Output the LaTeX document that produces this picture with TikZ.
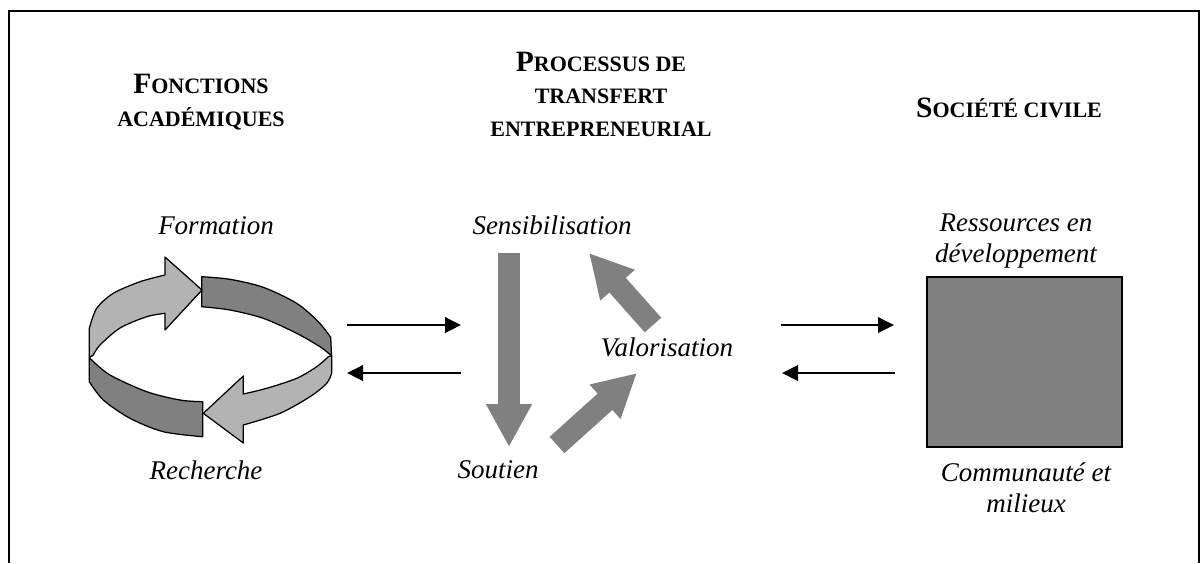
\documentclass[tikz,border=0pt]{standalone}
\usepackage{fontspec}
\setmainfont{Liberation Serif}
\usetikzlibrary{arrows.meta}

\definecolor{bandlight}{HTML}{B3B3B3}
\definecolor{banddark}{HTML}{808080}
\definecolor{blockgray}{HTML}{808080}

% bold small capitals built by hand: first letter large, the rest smaller
\newcommand\hdskip{13}
\newcommand\capsc[2]{{\fontsize{11.8}{\hdskip}\selectfont #1}{\fontsize{8.8}{\hdskip}\selectfont #2}}

\begin{document}
\begin{tikzpicture}[x=0.4pt,y=-0.4pt,
  header/.style={font=\fontsize{11.8}{13}\selectfont\bfseries, align=center, inner sep=0pt},
  lbl/.style={font=\fontsize{10.8}{12.4}\selectfont\itshape, align=center, inner sep=0pt},
  band/.style={draw=black, line width=0.5pt, line join=round},
  flow/.style={line width=0.8pt, -{Triangle[length=6.4pt,width=6.2pt]}},
  block/.style={draw=blockgray, line width=8.8pt, -{Triangle[length=17.2pt,width=17.2pt]}},
]
\useasboundingbox (0,0) rectangle (1201,563);

% frame, open at the bottom
\draw[line width=0.8pt] (9,563) -- (9,11) -- (1199,11) -- (1199,563);

% column headings
\node[header] (hfa) at (201,102) {\capsc{F}{ONCTIONS}\\\capsc{}{ACADÉMIQUES}};
\node[header] (hpt) at (601,94) {\capsc{P}{ROCESSUS DE}\\\capsc{}{TRANSFERT}\\\capsc{}{ENTREPRENEURIAL}};
\node[header] (hsc) at (1009,108) {\capsc{S}{OCIÉTÉ CIVILE}};

% --- circular ribbon: back-right and front-left strips first
\filldraw[band, fill=banddark]
  plot[smooth] coordinates {(201.7,276.7) (230,279.3) (263.3,287.3) (296.7,303.3) (318.3,321.7) (330.7,337.3)}
  -- (331.5,355)
  -- plot[smooth] coordinates {(329.3,354) (320,346.7) (296.7,333.3) (263.3,318.3) (230,310) (201.7,306.7)}
  -- cycle;
\filldraw[band, fill=banddark]
  (202.7,401.7) -- (202.7,436.7)
  -- plot[smooth] coordinates {(202.7,436.7) (163.3,431.7) (130,418.3) (103.3,400) (89.3,381.7)}
  -- (89.3,358)
  -- plot[smooth] coordinates {(91.7,360) (110,375) (146.7,391.7) (180,400) (202.7,401.7)}
  -- cycle;
% back-left arrow, head pointing right
\filldraw[band, fill=bandlight]
  (89.3,357.5) -- (89.3,328.3)
  -- plot[smooth] coordinates {(89.3,328.3) (96.7,308.3) (113.3,293.3) (140,281.7) (165,275)}
  -- (165,257) -- (202,290) -- (165,330) -- (165,313.3)
  -- plot[smooth] coordinates {(165,313.3) (146.7,316.7) (120,328) (100,345) (93.3,355)}
  -- cycle;
% front-right arrow, head pointing left
\filldraw[band, fill=bandlight]
  (331.7,355.5) -- (331.7,373)
  -- plot[smooth] coordinates {(331.7,373) (326.7,383.3) (310,396.7) (280,413.3) (243.3,425)}
  -- (243.3,443) -- (203.3,413.3) -- (243.3,376) -- (243.3,394)
  -- plot[smooth] coordinates {(243.3,394) (266.7,388.3) (296.7,378.3) (316.7,366.7) (328.3,356.7)}
  -- cycle;

% labels
\node[lbl] (form) at (216,226) {Formation};
\node[lbl] (rech) at (206,470) {Recherche};
\node[lbl] (sens) at (552,225) {Sensibilisation};
\node[lbl] (sout) at (498,470) {Soutien};
\node[lbl] (valo) at (667,347) {Valorisation};
\node[lbl] (ress) at (1016,241) {Ressources en\\développement};
\node[lbl] (comm) at (1026,488) {Communauté et\\milieux};

% civil society block
\node[draw, fill=blockgray, line width=0.8pt, minimum width=78pt, minimum height=68pt, inner sep=0pt] (soc) at (1024.5,362) {};

% exchange arrows
\coordinate (fa-out) at (347,325);
\coordinate (pt-in)  at (461,325);
\coordinate (pt-out) at (461,373);
\coordinate (fa-in)  at (347,373);
\coordinate (pt-out2) at (781,325);
\coordinate (soc-in)  at (894,325);
\coordinate (soc-out) at (895,373);
\coordinate (pt-in2)  at (782,373);
\draw[flow] (fa-out) -- (pt-in);
\draw[flow] (pt-out) -- (fa-in);
\draw[flow] (pt-out2) -- (soc-in);
\draw[flow] (soc-out) -- (pt-in2);

% transfer cycle
\coordinate (sens-dn)  at (509,253);
\coordinate (sout-in)  at (509,447);
\coordinate (sout-out) at (557,445);
\coordinate (valo-in)  at (637,373);
\coordinate (valo-out) at (653,325);
\coordinate (sens-in)  at (589,253);
\draw[block] (sens-dn) -- (sout-in);
\draw[block] (sout-out) -- (valo-in);
\draw[block] (valo-out) -- (sens-in);
\end{tikzpicture}
\end{document}
